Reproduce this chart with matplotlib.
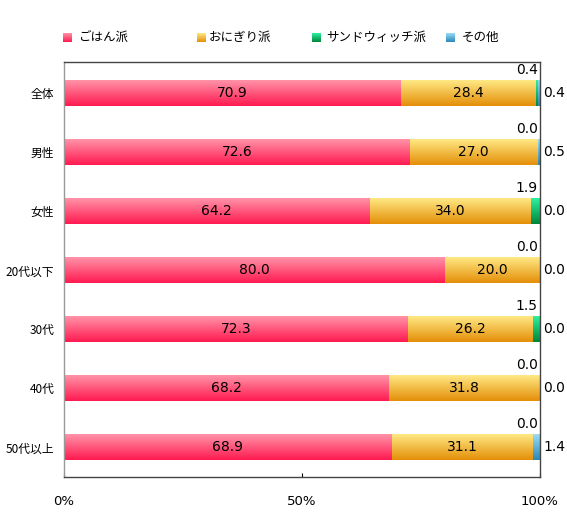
import numpy as np
import matplotlib.pyplot as plt
from matplotlib.colors import LinearSegmentedColormap
from matplotlib.patches import Rectangle

plt.rcParams['font.family'] = ['Noto Sans CJK JP', 'DejaVu Sans']

categories = ['全体', '男性', '女性', '20代以下', '30代', '40代', '50代以上']
gohan = [70.9, 72.6, 64.2, 80.0, 72.3, 68.2, 68.9]
onigiri = [28.4, 27.0, 34.0, 20.0, 26.2, 31.8, 31.1]
sandwich = [0.4, 0.0, 1.9, 0.0, 1.5, 0.0, 0.0]
other = [0.4, 0.5, 0.0, 0.0, 0.0, 0.0, 1.4]
series_names = ['ごはん派', 'おにぎり派', 'サンドウィッチ派', 'その他']

# top colour, bottom colour for each series
grads = [('#ff93a8', '#ff1a50'),
         ('#ffe884', '#e48f08'),
         ('#2ef0a0', '#00863a'),
         ('#9adcf6', '#2b88b8')]

fig = plt.figure(figsize=(5.67, 5.15), dpi=100)
ax = fig.add_axes([64/567, 1-477/515, 476/567, 415/515])

bh = 0.44
grad = np.linspace(0, 1, 64).reshape(-1, 1)
cmaps = [LinearSegmentedColormap.from_list('g%d' % i, [c[0], c[1]]) for i, c in enumerate(grads)]


def gbar(x0, x1, y, s):
    if x1 - x0 <= 0:
        return
    im = ax.imshow(grad, cmap=cmaps[s], aspect='auto',
                   extent=(x0, x1, y + bh/2, y - bh/2),
                   interpolation='bicubic', zorder=2)
    r = Rectangle((x0, y - bh/2), x1 - x0, bh, fill=False, lw=0)
    ax.add_patch(r)
    im.set_clip_path(r)


# small segments are anchored at the right end, like the original chart
for i in range(len(categories)):
    e_other = 100 - other[i]
    e_sand = e_other - sandwich[i]
    gbar(0, gohan[i], i, 0)
    gbar(gohan[i], e_sand, i, 1)
    gbar(e_sand, e_other, i, 2)
    gbar(e_other, 100, i, 3)
    ax.text(gohan[i]/2, i, '%.1f' % gohan[i], ha='center', va='center',
            fontsize=10, family='DejaVu Sans', zorder=3)
    ax.text((gohan[i] + e_sand)/2, i, '%.1f' % onigiri[i], ha='center', va='center',
            fontsize=10, family='DejaVu Sans', zorder=3)
    ax.text(99.5, i - bh/2 - 0.06, '%.1f' % sandwich[i], ha='right', va='bottom',
            fontsize=10, family='DejaVu Sans')
    ax.text(100.7, i, '%.1f' % other[i], ha='left', va='center',
            fontsize=10, family='DejaVu Sans', clip_on=False)

ax.set_xlim(0, 100)
ax.set_ylim(6.5, -0.53)
ax.set_yticks(range(len(categories)))
ax.set_yticklabels(categories, fontsize=8.5)
ax.tick_params(axis='y', length=0, pad=7)
ax.set_xticks([0, 50, 100])
ax.set_xticklabels(['0%', '50%', '100%'], fontsize=9.5, family='DejaVu Sans')
ax.tick_params(axis='x', length=3, direction='in', pad=13)
for sp in ax.spines.values():
    sp.set_color('#444444')
    sp.set_linewidth(1)
ax.spines['left'].set_color('#999999')

# legend
sq_x = [63, 197, 312, 446]
txt_x = [78, 209, 326, 462]
for k in range(4):
    lax = fig.add_axes([sq_x[k]/567, 1-42/515, 9/567, 9/515])
    lax.imshow(grad, cmap=cmaps[k], aspect='auto', extent=(0, 1, 1, 0))
    lax.axis('off')
    fig.text(txt_x[k]/567, 1-37.5/515, series_names[k], fontsize=9, va='center', ha='left')

plt.savefig('out.png', dpi=100)
